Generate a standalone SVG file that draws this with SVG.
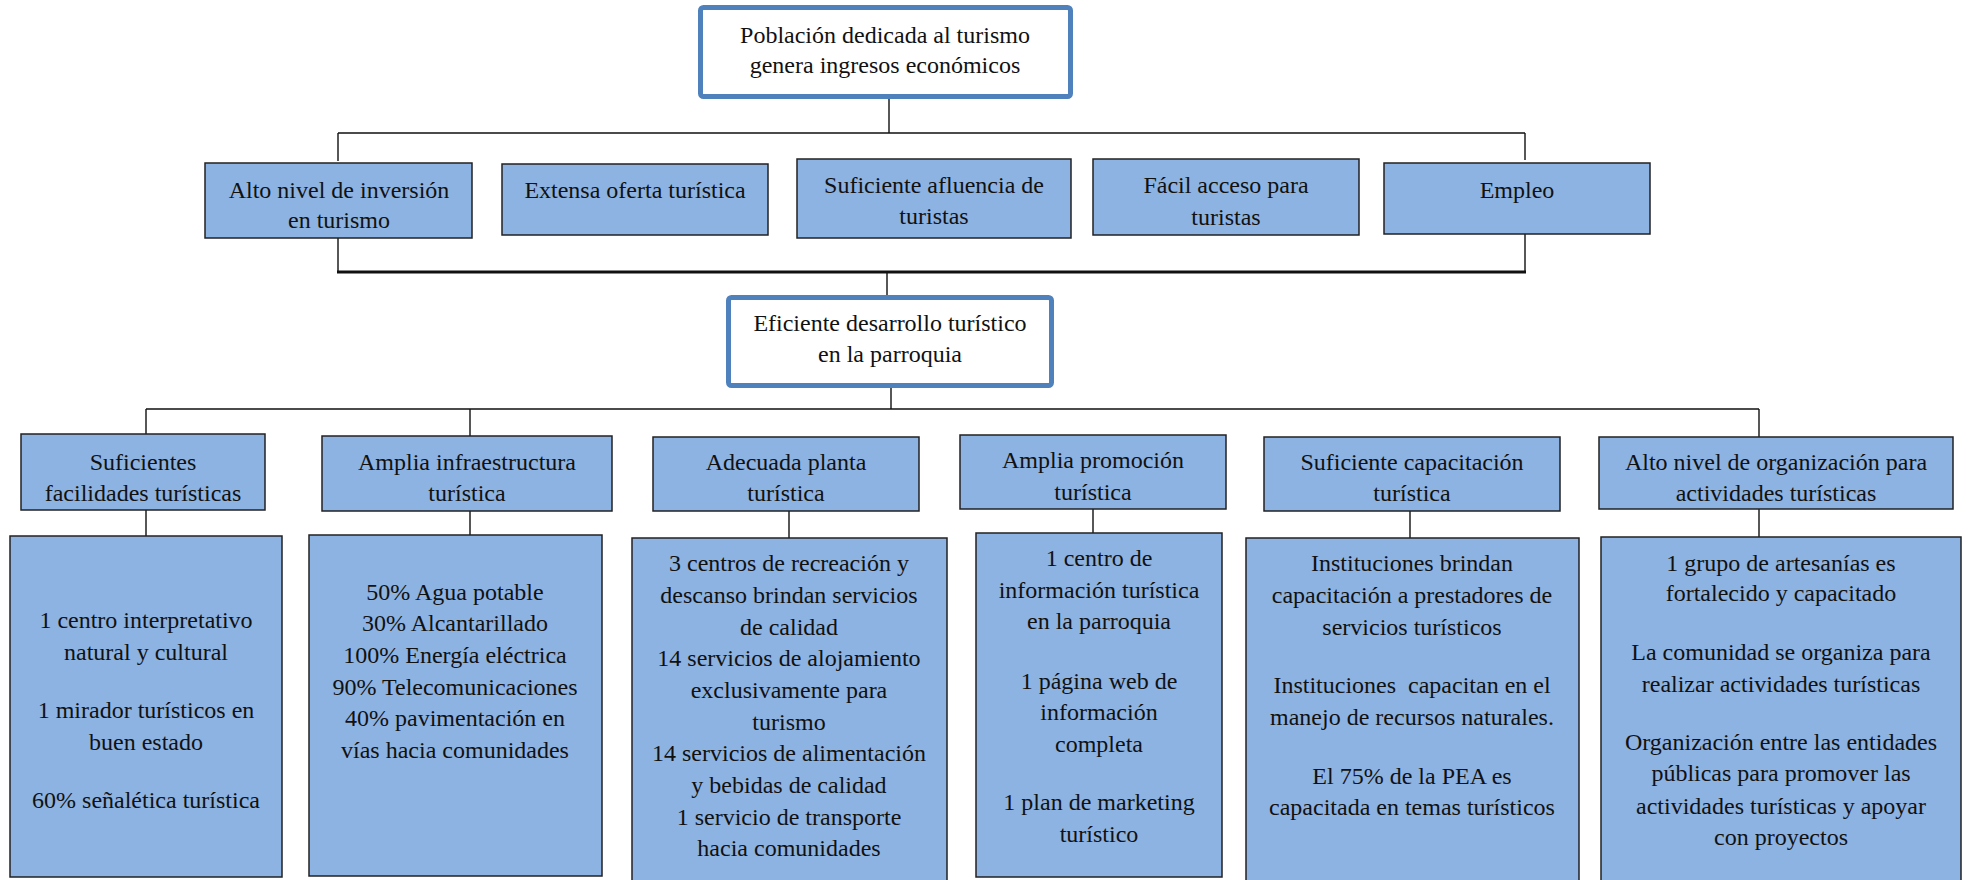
<svg xmlns="http://www.w3.org/2000/svg" width="1968" height="880" viewBox="0 0 1968 880">
<style>
text{font-family:"Liberation Serif","Times New Roman",serif;font-size:24px;fill:#111;text-anchor:middle}
.hb{fill:#fff;stroke:#4F81BD;stroke-width:5}
.b{fill:#8DB3E2;stroke:#222;stroke-width:1.5}
.c{fill:none;stroke:#111;stroke-width:1.4}
.t{fill:none;stroke:#111;stroke-width:3}
</style>
<rect width="1968" height="880" fill="#fff"/>
<g id="connectors">
<path class="c" d="M889 99V133M338 133H1525M338 133V161M1525 133V160"/>
<path class="c" d="M338 237V272M1525 234V272M887 272V296"/>
<path class="t" d="M337 272H1526"/>
<path class="c" d="M891 388V409M146 409H1759M146 409V434M470 409V436"/>
<path class="c" stroke-width="2" d="M1759 409V437"/>
<path class="c" d="M146 510V536M470 511V535M789 511V538M1093 509V533M1759 509V537"/>
<path class="c" stroke-width="2.2" d="M1410 511V538"/>
</g>
<g id="n0">
<rect class="hb" x="700.5" y="7.5" width="370" height="89" rx="3"/>
<text x="885" y="43">Población dedicada al turismo</text>
<text x="885" y="73">genera ingresos económicos</text>
</g>
<g id="n1a">
<rect class="b" x="205" y="163" width="267" height="75"/>
<text x="339" y="198">Alto nivel de inversión</text>
<text x="339" y="228">en turismo</text>
</g>
<g id="n1b">
<rect class="b" x="502" y="164" width="266" height="71"/>
<text x="635" y="198">Extensa oferta turística</text>
</g>
<g id="n1c">
<rect class="b" x="797" y="159" width="274" height="79"/>
<text x="934" y="193">Suficiente afluencia de</text>
<text x="934" y="224">turistas</text>
</g>
<g id="n1d">
<rect class="b" x="1093" y="159" width="266" height="76"/>
<text x="1226" y="193">Fácil acceso para</text>
<text x="1226" y="225">turistas</text>
</g>
<g id="n1e">
<rect class="b" x="1384" y="163" width="266" height="71"/>
<text x="1517" y="198">Empleo</text>
</g>
<g id="n2">
<rect class="hb" x="728.5" y="297.5" width="323" height="88" rx="3"/>
<text x="890" y="331">Eficiente desarrollo turístico</text>
<text x="890" y="362">en la parroquia</text>
</g>
<g id="n3a">
<rect class="b" x="21" y="434" width="244" height="76"/>
<text x="143" y="470">Suficientes</text>
<text x="143" y="501">facilidades turísticas</text>
</g>
<g id="n3b">
<rect class="b" x="322" y="436" width="290" height="75"/>
<text x="467" y="470">Amplia infraestructura</text>
<text x="467" y="501">turística</text>
</g>
<g id="n3c">
<rect class="b" x="653" y="437" width="266" height="74"/>
<text x="786" y="470">Adecuada planta</text>
<text x="786" y="501">turística</text>
</g>
<g id="n3d">
<rect class="b" x="960" y="435" width="266" height="74"/>
<text x="1093" y="468">Amplia promoción</text>
<text x="1093" y="500">turística</text>
</g>
<g id="n3e">
<rect class="b" x="1264" y="437" width="296" height="74"/>
<text x="1412" y="470">Suficiente capacitación</text>
<text x="1412" y="501">turística</text>
</g>
<g id="n3f">
<rect class="b" x="1599" y="437" width="354" height="72"/>
<text x="1776" y="470">Alto nivel de organización para</text>
<text x="1776" y="501">actividades turísticas</text>
</g>
<g id="n4a">
<rect class="b" x="10" y="536" width="272" height="341"/>
<text x="146" y="628">1 centro interpretativo</text>
<text x="146" y="660">natural y cultural</text>
<text x="146" y="718">1 mirador turísticos en</text>
<text x="146" y="750">buen estado</text>
<text x="146" y="808">60% señalética turística</text>
</g>
<g id="n4b">
<rect class="b" x="309" y="535" width="293" height="341"/>
<text x="455" y="600">50% Agua potable</text>
<text x="455" y="631">30% Alcantarillado</text>
<text x="455" y="663">100% Energía eléctrica</text>
<text x="455" y="695">90% Telecomunicaciones</text>
<text x="455" y="726">40% pavimentación en</text>
<text x="455" y="758">vías hacia comunidades</text>
</g>
<g id="n4c">
<rect class="b" x="632" y="538" width="315" height="350"/>
<text x="789" y="571">3 centros de recreación y</text>
<text x="789" y="603">descanso brindan servicios</text>
<text x="789" y="635">de calidad</text>
<text x="789" y="666">14 servicios de alojamiento</text>
<text x="789" y="698">exclusivamente para</text>
<text x="789" y="730">turismo</text>
<text x="789" y="761">14 servicios de alimentación</text>
<text x="789" y="793">y bebidas de calidad</text>
<text x="789" y="825">1 servicio de transporte</text>
<text x="789" y="856">hacia comunidades</text>
</g>
<g id="n4d">
<rect class="b" x="976" y="533" width="246" height="344"/>
<text x="1099" y="566">1 centro de</text>
<text x="1099" y="598">información turística</text>
<text x="1099" y="629">en la parroquia</text>
<text x="1099" y="689">1 página web de</text>
<text x="1099" y="720">información</text>
<text x="1099" y="752">completa</text>
<text x="1099" y="810">1 plan de marketing</text>
<text x="1099" y="842">turístico</text>
</g>
<g id="n4e">
<rect class="b" x="1246" y="538" width="333" height="350"/>
<text x="1412" y="571">Instituciones brindan</text>
<text x="1412" y="603">capacitación a prestadores de</text>
<text x="1412" y="635">servicios turísticos</text>
<text x="1412" y="693" xml:space="preserve">Instituciones  capacitan en el</text>
<text x="1412" y="725">manejo de recursos naturales.</text>
<text x="1412" y="784">El 75% de la PEA es</text>
<text x="1412" y="815">capacitada en temas turísticos</text>
</g>
<g id="n4f">
<rect class="b" x="1601" y="537" width="360" height="350"/>
<text x="1781" y="571">1 grupo de artesanías es</text>
<text x="1781" y="601">fortalecido y capacitado</text>
<text x="1781" y="660">La comunidad se organiza para</text>
<text x="1781" y="692">realizar actividades turísticas</text>
<text x="1781" y="750">Organización entre las entidades</text>
<text x="1781" y="781">públicas para promover las</text>
<text x="1781" y="814">actividades turísticas y apoyar</text>
<text x="1781" y="845">con proyectos</text>
</g>
</svg>
